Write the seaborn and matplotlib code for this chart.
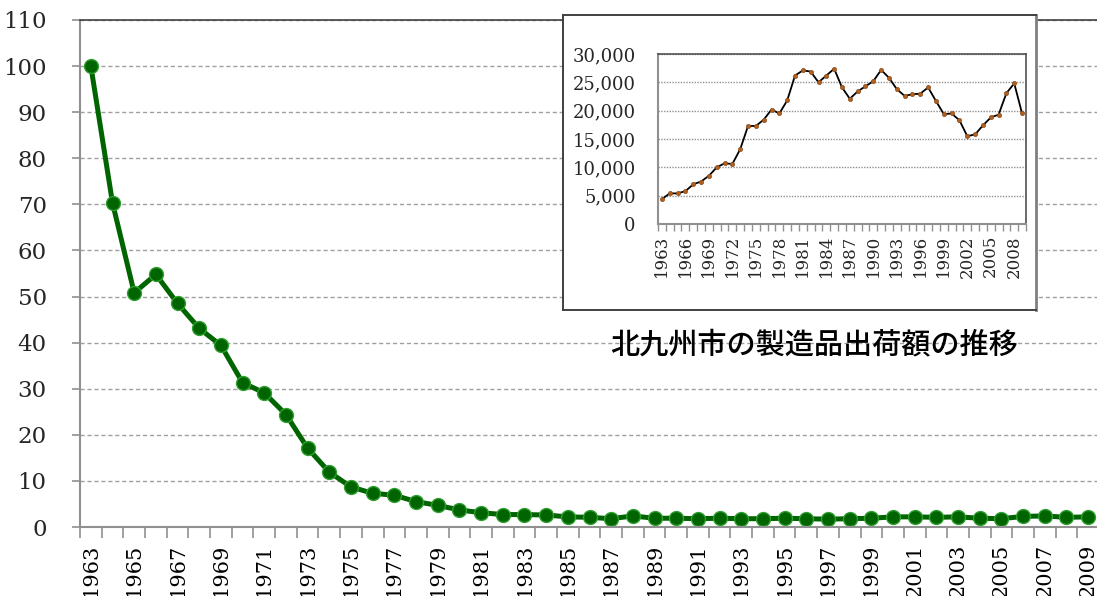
import matplotlib
matplotlib.use("Agg")
import matplotlib.pyplot as plt
from matplotlib.ticker import FuncFormatter, FixedLocator
import seaborn as sns
import pandas as pd
import numpy as np

# 主グラフ: 指数 (1963 = 100)
years = list(range(1963, 2010))
index_values = [100, 70.3, 50.8, 54.8, 48.5, 43.1, 39.4, 31.3, 29.1, 24.4,
                17.1, 11.9, 8.7, 7.3, 6.9, 5.5, 4.7, 3.7, 3.1, 2.7,
                2.7, 2.6, 2.2, 2.1, 1.8, 2.4, 1.9, 1.9, 1.8, 1.9,
                1.8, 1.8, 1.9, 1.8, 1.7, 1.8, 1.9, 2.2, 2.2, 2.1,
                2.2, 1.9, 1.8, 2.3, 2.4, 2.1, 2.2]

# 挿入グラフ: 製造品出荷額
shipment_values = [4400, 5400, 5400, 5800, 7000, 7500, 8500, 10000, 10700, 10600,
                   13200, 17300, 17300, 18400, 20200, 19500, 21800, 26200, 27100, 26900,
                   25000, 26200, 27400, 24100, 22100, 23400, 24300, 25200, 27200, 25800,
                   23800, 22600, 22900, 23000, 24100, 21700, 19400, 19500, 18300, 15500,
                   15800, 17400, 18800, 19300, 23100, 24800, 19500]
inset_title = "北九州市の製造品出荷額の推移"

df = pd.DataFrame({"year": years, "index": index_values, "shipment": shipment_values})

sns.set_theme(style="white")
plt.rcParams["font.family"] = ["DejaVu Serif"]

W, H = 1097, 596
fig = plt.figure(figsize=(W / 100, H / 100), dpi=100)

# 主グラフ
ax = fig.add_axes([80 / W, 69 / H, 1019 / W, 507 / H])
sns.lineplot(data=df, x="year", y="index", ax=ax, color="#006400", lw=3.6,
             marker="o", markersize=10, markerfacecolor="#006400",
             markeredgecolor="#2f9f2f", markeredgewidth=1)
ax.set_xlim(years[0] - 0.5, years[-1] + 0.5)
ax.set_ylim(0, 110)
ax.set_yticks(range(0, 111, 10))
ax.set_xticks(years[::2])
ax.xaxis.set_minor_locator(FixedLocator([y + 0.5 for y in years[:-1]] + [years[0] - 0.5]))
ax.set_xlabel("")
ax.set_ylabel("")
ax.grid(axis="y", color="#a0a0a0", linestyle=(0, (3, 2)), lw=1)
ax.set_axisbelow(True)
ax.tick_params(axis="x", which="major", length=0, pad=12, labelsize=15,
               labelrotation=90, colors="black")
ax.tick_params(axis="x", which="minor", length=8, width=1.2, color="#909090",
               direction="out", bottom=True)
ax.tick_params(axis="y", which="major", length=6, width=1.2, color="#909090",
               direction="out", pad=18, labelsize=16.5, left=True)
for side in ["left", "bottom"]:
    ax.spines[side].set_color("#909090")
    ax.spines[side].set_linewidth(1.5)
ax.spines["top"].set_color("#404040")
ax.spines["top"].set_linewidth(1.2)
ax.spines["right"].set_visible(False)

# タイトル (ピクセル座標)
fig.text(814 / W, 1 - 345 / H, inset_title, ha="center", va="center",
         fontsize=21, fontweight="medium",
         family=["Noto Sans CJK JP", "DejaVu Sans"], color="black")

# 挿入グラフの枠
frame = fig.add_axes([563 / W, (H - 310) / H, (1036 - 563) / W, (310 - 15) / H])
frame.set_facecolor("white")
frame.set_xticks([])
frame.set_yticks([])
for s in frame.spines.values():
    s.set_color("#404040")
    s.set_linewidth(1.4)
frame.spines["right"].set_color("#808080")
frame.spines["right"].set_linewidth(2)

# 挿入グラフ
ins = fig.add_axes([658 / W, (H - 224) / H, (1026 - 658) / W, (224 - 54) / H])
sns.lineplot(data=df, x="year", y="shipment", ax=ins, color="black", lw=1.3,
             marker="o", markersize=3, markerfacecolor="#b0601f",
             markeredgecolor="#8a4a18", markeredgewidth=0.5)
ins.set_xlim(years[0] - 0.5, years[-1] + 0.5)
ins.set_ylim(0, 30000)
ins.set_yticks(range(0, 30001, 5000))
ins.yaxis.set_major_formatter(FuncFormatter(lambda v, p: f"{int(v):,}"))
ins.set_xticks(years[::3])
ins.xaxis.set_minor_locator(FixedLocator([y + 0.5 for y in years[:-1]] + [years[0] - 0.5, years[-1] + 0.5]))
ins.set_xlabel("")
ins.set_ylabel("")
ins.grid(axis="y", color="#909090", linestyle=(0, (1, 1)), lw=1)
ins.set_axisbelow(True)
ins.tick_params(axis="x", which="major", length=0, pad=8, labelsize=12,
                labelrotation=90)
ins.tick_params(axis="x", which="minor", length=5, width=1, color="#909090",
                direction="out", bottom=True)
ins.tick_params(axis="y", length=0, pad=16, labelsize=13)
for side in ["left", "bottom"]:
    ins.spines[side].set_color("#909090")
    ins.spines[side].set_linewidth(1.5)
for side in ["top", "right"]:
    ins.spines[side].set_color("#505050")
    ins.spines[side].set_linewidth(1.2)

fig.savefig("out.png", dpi=100)
